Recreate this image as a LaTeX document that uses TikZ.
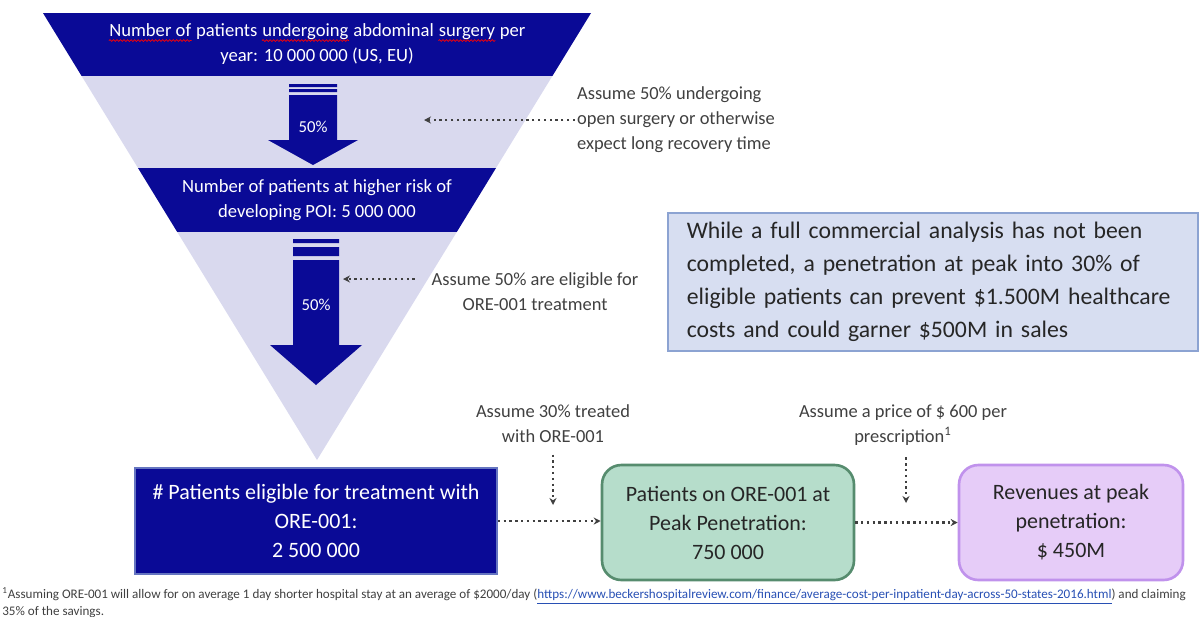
\documentclass[tikz,border=0pt]{standalone}
\usepackage{fontspec}
\setmainfont{Carlito}
\usetikzlibrary{arrows.meta,positioning,decorations.pathmorphing}

\definecolor{funnelblue}{RGB}{10,10,150}
\definecolor{funnellight}{RGB}{217,217,238}
\definecolor{notegray}{RGB}{64,64,64}
\definecolor{boxfill}{RGB}{215,222,241}
\definecolor{boxline}{RGB}{140,163,210}
\definecolor{greenfill}{RGB}{182,221,203}
\definecolor{greenline}{RGB}{86,140,110}
\definecolor{lilacfill}{RGB}{230,204,248}
\definecolor{lilacline}{RGB}{192,146,236}
\definecolor{linkblue}{RGB}{40,80,180}

% red spell-check wave under a word
\newcommand\spellwave[1]{\tikz[baseline=(w.base)]{\node[inner sep=0pt] (w) {#1};
  \draw[red, line width=0.4pt, decorate, decoration={snake, amplitude=0.5pt, segment length=2pt}]
    ([yshift=-2.2pt]w.base west) -- ([yshift=-2.2pt]w.base east);}}

\tikzset{
  bandtext/.style={text=white, align=center, inner sep=0pt, font=\fontsize{10.6}{14}\selectfont},
  pcttext/.style={text=white, inner sep=0pt, font=\fontsize{9.5}{11}\selectfont},
  note/.style={text=notegray, inner sep=1pt, font=\fontsize{10.5}{14.2}\selectfont},
  hint/.style={draw=notegray, line width=1.3pt, dotted, -{Stealth[length=4pt,width=4pt]}},
  stage/.style={minimum height=2.3cm, align=center, line width=1.5pt,
    text=black!85, font=\fontsize{12.5}{16.5}\selectfont},
}

\begin{document}
\begin{tikzpicture}[x=0.02cm,y=-0.02cm]
  \useasboundingbox (0,0) rectangle (1199,616);

  % funnel
  \fill[funnellight] (43,13) -- (591,13) -- (317,460) -- cycle;
  \begin{scope}
    \clip (43,13) -- (591,13) -- (317,460) -- cycle;
    \fill[funnelblue] (0,13) rectangle (600,76);
    \fill[funnelblue] (0,168) rectangle (600,232);
  \end{scope}
  \node[bandtext] (total) at (317,44)
    {\spellwave{Number of} patients \spellwave{undergoing} abdominal \spellwave{surgery} per\\
     year: 10 000 000 (US, EU)};
  \node[bandtext] (risk) at (317,200)
    {Number of patients at higher risk of\\developing POI: 5 000 000};

  % striped arrows
  \fill[funnelblue] (289,84) rectangle (337,87) (289,89) rectangle (337,92);
  \fill[funnelblue] (289,95) -- (337,95) -- (337,140) -- (358,140) --
        (313,165) -- (268,140) -- (289,140) -- cycle;
  \node[pcttext] (cut1) at (313,127) {50\%};
  \fill[funnelblue] (293,239) rectangle (339,243) (293,247) rectangle (339,256);
  \fill[funnelblue] (293,260) -- (339,260) -- (339,345) -- (362,345) --
        (316,385) -- (270,345) -- (293,345) -- cycle;
  \node[pcttext] (cut2) at (316,305) {50\%};

  % assumptions
  \node[note, anchor=west, align=left] (why1) at (575,120)
    {Assume 50\% undergoing\\open surgery or otherwise\\expect long recovery time};
  \coordinate (gap1) at (424,120);
  \draw[hint] (why1.west) -- (gap1);
  \node[note, align=center] (why2) at (535,291.5)
    {Assume 50\% are eligible for\\ORE-001 treatment};
  \coordinate (gap2) at (343,279);
  \draw[hint] ([xshift=-0.3cm]why2.west |- gap2) -- (gap2);

  % summary
  \node[draw=boxline, fill=boxfill, line width=1pt, anchor=north west,
        minimum height=2.76cm, text width=9.84cm, inner xsep=0.38cm,
        align=left, text=black!85, font=\fontsize{13.5}{18.7}\selectfont]
    (summary) at (667,212)
    {While a full commercial analysis has not been\\
     completed, a penetration at peak into 30\% of\\
     eligible patients can prevent \$1.500M healthcare\\
     costs and could garner \$500M in sales};

  % stages
  \node[stage, fill=funnelblue, draw=boxline!70!funnelblue, line width=1pt,
        minimum width=7.24cm, minimum height=2.12cm, text=white] (elig) at (316,521)
    {\# Patients eligible for treatment with\\ORE-001:\\2 500 000};
  \node[stage, fill=greenfill, draw=greenline, rounded corners=11pt,
        minimum width=5.04cm] (peak) at (728,522.5)
    {Patients on ORE-001 at\\Peak Penetration:\\750 000};
  \node[stage, fill=lilacfill, draw=lilacline, rounded corners=11pt,
        minimum width=4.48cm] (sales) at (1071,522.5)
    {Revenues at peak\\penetration:\\\$ 450M};

  \draw[hint] (elig.east) -- (elig.east -| peak.west);
  \draw[hint] (peak.east) -- (peak.east -| sales.west);

  \node[note, align=center] (why3) at (553,423.5) {Assume 30\% treated\\with ORE-001};
  \coordinate (drop1) at (553,505);
  \draw[hint] ([yshift=-0.2cm]why3.south) -- (drop1);
  \node[note, align=center] (why4) at (903,425)
    {Assume a price of \$ 600 per\\prescription\textsuperscript{1}};
  \coordinate (drop2) at (906,503);
  \draw[hint] ([yshift=-0.2cm]why4.south -| drop2) -- (drop2);

  % footnote
  \node[note, anchor=north west, align=left, inner sep=0pt,
        font=\fontsize{7.45}{8}\selectfont] (source) at (2,587)
    {\textsuperscript{1}Assuming ORE-001 will allow for on average 1 day shorter hospital stay at an average of \$2000/day ({\color{linkblue}\underline{https://www.beckershospitalreview.com/finance/average-cost-per-inpatient-day-across-50-states-2016.html}}) and claiming\\
     35\% of the savings.};
\end{tikzpicture}
\end{document}
